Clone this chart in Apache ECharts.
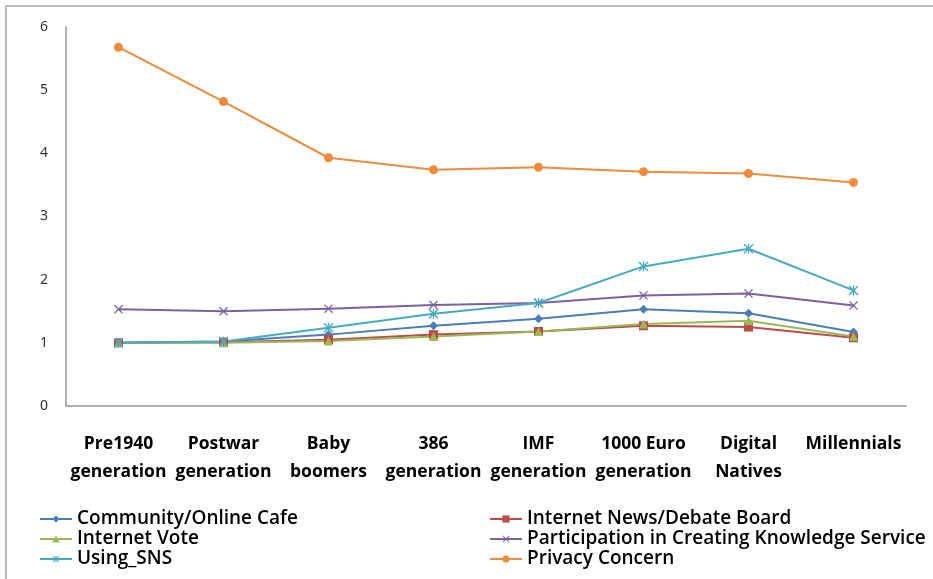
<!DOCTYPE html>
<html>
<head>
<meta charset="utf-8">
<script src="https://cdn.jsdelivr.net/npm/echarts@6/dist/echarts.min.js"></script>
<style>
  html, body { margin: 0; padding: 0; background: #fff; }
  #frame { position: absolute; left: 5px; top: 5px; width: 940px; height: 580px; border-left: 2px solid #b8b8b8; border-top: 2px solid #b8b8b8; }
  #main { position: absolute; left: 0; top: 0; width: 933px; height: 579px; }
</style>
</head>
<body>
<div id="frame"></div>
<div id="main"></div>
<script>
var categories = ['Pre1940\ngeneration', 'Postwar\ngeneration', 'Baby\nboomers', '386\ngeneration', 'IMF\ngeneration', '1000 Euro\ngeneration', 'Digital\nNatives', 'Millennials'];
var yTicks = [0, 1, 2, 3, 4, 5, 6];

var community = [1.0, 1.02, 1.13, 1.27, 1.38, 1.53, 1.47, 1.17];
var newsBoard = [1.0, 1.01, 1.05, 1.13, 1.18, 1.27, 1.25, 1.08];
var internetVote = [1.0, 1.0, 1.03, 1.1, 1.18, 1.3, 1.35, 1.1];
var knowledge = [1.53, 1.5, 1.54, 1.6, 1.63, 1.75, 1.78, 1.59];
var usingSns = [1.0, 1.02, 1.24, 1.46, 1.63, 2.21, 2.49, 1.83];
var privacy = [5.68, 4.82, 3.93, 3.74, 3.78, 3.71, 3.68, 3.54];

var crossPath = 'path://M0,1L1,0L5,4L9,0L10,1L6,5L10,9L9,10L5,6L1,10L0,9L4,5Z';
var starPath = 'path://M0,1L1,0L5,4L9,0L10,1L6,5L10,9L9,10L5,6L1,10L0,9L4,5Z M4.4,0L5.6,0L5.6,10L4.4,10Z';

function mk(name, data, color, symbol, size) {
  return {
    name: name,
    type: 'line',
    data: data,
    symbol: symbol,
    symbolSize: size,
    showAllSymbol: true,
    lineStyle: { color: color, width: 2 },
    itemStyle: { color: color },
    emphasis: { disabled: true }
  };
}

var chart = echarts.init(document.getElementById('main'));
var legendText = { fontFamily: 'Open Sans', fontSize: 19, lineHeight: 20, fontWeight: 600, color: '#000' };
var option = {
  animation: false,
  grid: { left: 66, right: 27, top: 27, bottom: 173, containLabel: false },
  legend: [
    {
      data: ['Community/Online Cafe', 'Internet Vote', 'Using_SNS'],
      orient: 'vertical', left: 39, top: 509, itemGap: 0,
      itemWidth: 32, itemHeight: 9, textStyle: legendText, padding: 0
    },
    {
      data: ['Internet News/Debate Board', 'Participation in Creating Knowledge Service', 'Privacy Concern'],
      orient: 'vertical', left: 489, top: 509, itemGap: 0,
      itemWidth: 32, itemHeight: 9, textStyle: legendText, padding: 0
    }
  ],
  xAxis: {
    type: 'category',
    data: categories,
    boundaryGap: true,
    axisLine: { lineStyle: { color: '#b0b0b0', width: 2 } },
    axisTick: { show: false },
    axisLabel: {
      margin: 24, interval: 0, lineHeight: 28,
      fontFamily: 'Open Sans', fontSize: 17.5, fontWeight: 'bold', color: '#000'
    }
  },
  yAxis: {
    type: 'value',
    min: yTicks[0], max: yTicks[yTicks.length - 1], interval: 1,
    axisLine: { show: true, lineStyle: { color: '#b0b0b0', width: 2 } },
    axisTick: { show: false },
    splitLine: { show: false },
    axisLabel: { margin: 18, fontFamily: 'Noto Sans', fontSize: 14, color: '#333' }
  },
  series: [
    mk('Community/Online Cafe', community, '#4a7ebb', 'diamond', 9),
    mk('Internet News/Debate Board', newsBoard, '#be4b48', 'rect', 9),
    mk('Internet Vote', internetVote, '#98b954', 'triangle', 9),
    mk('Participation in Creating Knowledge Service', knowledge, '#7d60a0', crossPath, 9),
    mk('Using_SNS', usingSns, '#46aac5', starPath, 10),
    mk('Privacy Concern', privacy, '#f08a3c', 'circle', 9)
  ]
};
chart.setOption(option);
</script>
</body>
</html>
